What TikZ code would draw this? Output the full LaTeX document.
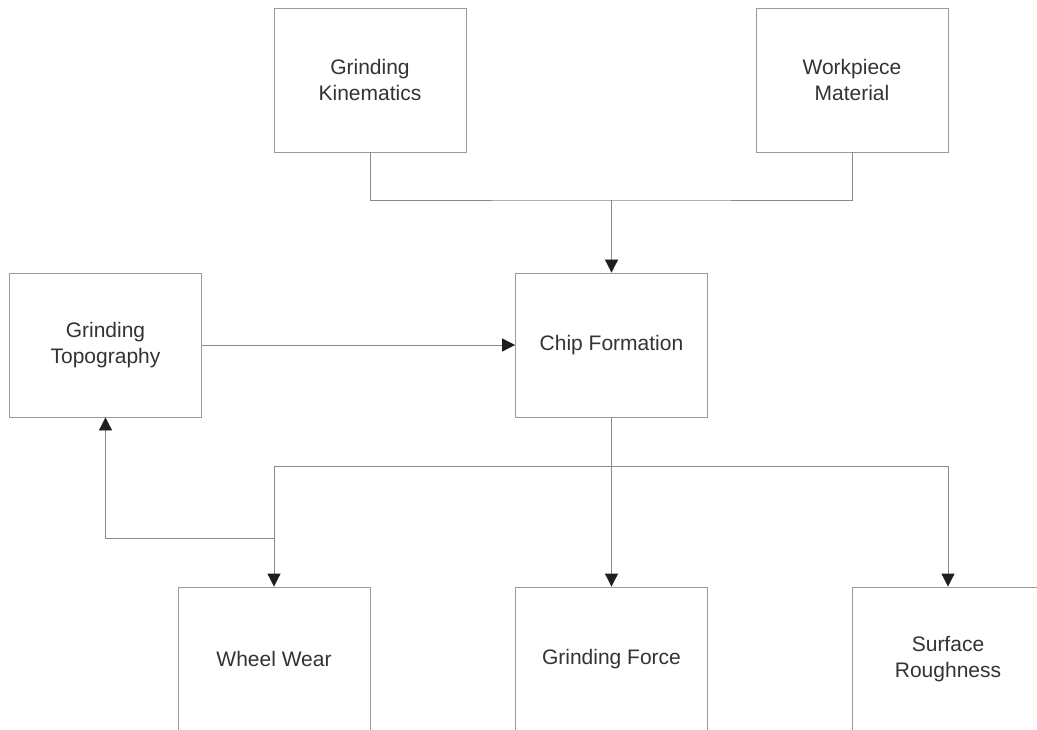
\documentclass[tikz,border=0pt]{standalone}
\usepackage{fontspec}
\setmainfont{Liberation Sans}
\usetikzlibrary{arrows.meta}
\definecolor{boxline}{HTML}{9A9A9A}
\definecolor{conn}{HTML}{8A8A8A}
\definecolor{txt}{HTML}{333333}
\definecolor{tip}{HTML}{1E1E1E}
\tikzset{
  blk/.style={draw=boxline, line width=0.8pt, minimum width=192pt, minimum height=144pt,
    inner sep=0pt, align=center, text=txt, font=\fontsize{21}{26}\selectfont},
  link/.style={draw=conn, line width=0.8pt},
  arr/.style={link, -{Triangle[width=13pt,length=13pt,color=tip]}}
}
\begin{document}
\begin{tikzpicture}[x=1pt,y=-1pt]
\useasboundingbox (0,0) rectangle (1037,730);
\clip (0,0) rectangle (1037,730);
\fill[white] (0,0) rectangle (1037,730);
\node[blk] (GK) at (370,80) {Grinding\\Kinematics};
\node[blk] (WM) at (852,80) {Workpiece\\Material};
\node[blk] (CF) at (611.5,345) {Chip Formation};
\node[blk] (GT) at (105.5,345) {Grinding\\Topography};
\node[blk] (WW) at (274,659) {Wheel Wear};
\node[blk] (GF) at (611.5,659) {Grinding Force};
\node[blk] (SR) at (948,659) {Surface\\Roughness};
\coordinate (top) at (611.5,200);
\coordinate (mid) at (611.5,466);
\coordinate (fb) at (274,538);
\draw[link] (GK.south) |- (top) -| (WM.south);
\draw[arr] (top) -- (CF.north);
\draw[arr] (GT.east) -- (CF.west);
\draw[link] (CF.south) -- (mid);
\draw[arr] (mid) -- (GF.north);
\draw[arr] (mid) -| (WW.north);
\draw[arr] (mid) -| (SR.north);
\draw[arr] (fb) -| (GT.south);
\end{tikzpicture}
\end{document}
